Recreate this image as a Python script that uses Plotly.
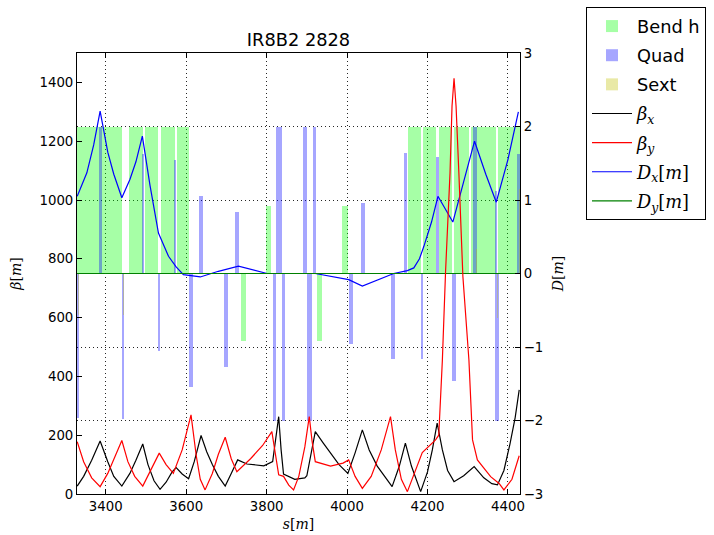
import plotly.graph_objects as go

# ---------------- data ----------------
# Bend h elements: start / end in s [m], height on D axis
bend_start = [3329, 3387, 3458, 3497, 3537, 3577, 3736, 3799, 3925, 3988, 4151, 4190, 4229, 4267, 4309, 4376]
bend_end   = [3387, 3440, 3492, 3531, 3571, 3608, 3749, 3811, 3938, 4003, 4185, 4220, 4262, 4303, 4370, 4429]
bend_h     = [2, 2, 2, 2, 2, 2, -0.925, 0.917, -0.925, 0.917, 2, 2, 2, 2, 2, 2]

# Quadrupoles: centre, length, height on D axis
quad_s = [3332, 3387, 3442, 3493, 3533, 3572.5, 3612, 3637, 3698, 3727, 3819, 3831, 3842,
          3895, 3907, 3919, 4009, 4039, 4114, 4145, 4186, 4225, 4265, 4318, 4371, 4373, 4426]
quad_l = [5, 6, 5, 6, 6, 6, 10, 11, 10, 10, 8, 14, 8,
          11, 12, 8, 10, 10, 12, 9, 6, 7, 10, 8, 5, 8, 8]
quad_h = [-1.97, 2.0, -1.98, 1.63, -1.06, 1.545, -1.54, 1.05, -1.27, 0.84, -2.0, 2.0, -2.0,
          2.0, -2.0, 2.0, -0.956, 0.963, -1.165, 1.636, -1.165, 1.59, -1.457, 2.0, 1.12, -2.0, 1.62]

# Sextupoles
sext_s = [3333, 3388, 3444, 4321, 4374, 4428]
sext_l = [2, 2, 2, 3, 2, 2]
sext_h = [-0.57, 0.39, -0.57, 0.34, -0.6, 1.15]

# beta_x [m]
s_bx = [3329, 3345, 3365, 3386, 3405, 3420, 3440, 3460, 3475, 3492, 3505, 3520, 3535, 3550, 3565,
        3575, 3590, 3606, 3620, 3637, 3651, 3665, 3680, 3697, 3712, 3728, 3751, 3793, 3815, 3822,
        3830, 3836, 3842, 3870, 3895, 3900, 3910, 3921, 3940, 3959, 3980, 4002, 4020, 4038, 4055,
        4075, 4095, 4112, 4130, 4145, 4160, 4175, 4183, 4200, 4212, 4224, 4237, 4250, 4266, 4290,
        4316, 4340, 4360, 4374, 4390, 4405, 4418, 4428]
bx = [27, 60, 115, 180, 110, 60, 27, 70, 115, 170, 100, 45, 16, 40, 75,
      90, 68, 52, 110, 199, 144, 100, 60, 27, 70, 116, 102, 96, 110, 180,
      263, 150, 68, 50, 55, 62, 130, 212, 175, 139, 100, 70, 140, 218, 150,
      95, 55, 25, 95, 173, 95, 35, 8, 75, 150, 241, 150, 80, 42, 62,
      93, 55, 35, 31, 80, 170, 260, 354]

# beta_y [m]
s_by = [3329, 3345, 3365, 3386, 3405, 3420, 3440, 3455, 3472, 3492, 3510, 3533, 3550, 3568, 3590,
        3612, 3625, 3635, 3647, 3665, 3680, 3697, 3712, 3726, 3760, 3790, 3813, 3822, 3830, 3842,
        3855, 3867, 3880, 3895, 3906, 3913, 3921, 3959, 3990, 4004, 4020, 4038, 4060, 4085, 4108,
        4120, 4135, 4150, 4165, 4187, 4220, 4228, 4237, 4245, 4256, 4261, 4266, 4271, 4278, 4288,
        4303, 4312, 4324, 4345, 4357, 4378, 4390, 4410, 4428]
by = [178, 110, 55, 25, 70, 120, 182, 110, 60, 27, 75, 139, 100, 70, 150,
      269, 130, 50, 14, 70, 135, 193, 120, 76, 120, 165, 212, 140, 65, 60,
      30, 14, 60, 160, 263, 180, 110, 95, 105, 116, 60, 19, 60, 150, 263,
      150, 50, 8, 60, 141, 184, 200, 456, 760, 1092, 1320, 1414, 1320, 1092, 740,
      456, 184, 116, 82, 59, 36, 14, 50, 130]

# D_x [m]
s_dx = [3329, 3353, 3370, 3386, 3405, 3420, 3440, 3460, 3475, 3491, 3510, 3531, 3556, 3575, 3593,
        3635, 3680, 3730, 3801, 3921, 4004, 4038, 4116, 4150, 4166, 4180, 4191, 4210, 4226, 4263,
        4290, 4317, 4345, 4371, 4400, 4426]
dx = [1.05, 1.37, 1.75, 2.21, 1.65, 1.35, 1.03, 1.28, 1.52, 1.87, 1.2, 0.55, 0.235, 0.09, -0.015,
      -0.047, 0.03, 0.1, 0.0, 0.0, -0.083, -0.17, 0.0, 0.04, 0.076, 0.2, 0.37, 0.7, 1.05, 0.7,
      1.25, 1.8, 1.35, 0.97, 1.55, 2.2]

# D_y [m]
s_dy = [3329, 4429]
dy = [0.0, 0.0]

title_text = "IR8B2 2828"
x_range = [3328.5, 4430]
beta_range = [0, 1500]
disp_range = [-3, 3]

# ---------------- figure ----------------
fig = go.Figure()

bend_c = [(a + b) / 2 for a, b in zip(bend_start, bend_end)]
bend_w = [b - a for a, b in zip(bend_start, bend_end)]

fig.add_trace(go.Bar(x=bend_c, y=bend_h, width=bend_w, base=0, name="Bend h",
                     marker=dict(color="rgba(0,255,0,0.35)", line=dict(width=0)),
                     yaxis="y", legendgroup="a"))
fig.add_trace(go.Bar(x=quad_s, y=quad_h, width=quad_l, base=0, name="Quad",
                     marker=dict(color="rgba(0,0,255,0.35)", line=dict(width=0)),
                     yaxis="y", legendgroup="b"))
fig.add_trace(go.Bar(x=sext_s, y=sext_h, width=sext_l, base=0, name="Sext",
                     marker=dict(color="rgba(191,191,0,0.35)", line=dict(width=0)),
                     yaxis="y", legendgroup="c"))

serif = "font-family:'DejaVu Serif'"
fig.add_trace(go.Scatter(x=s_bx, y=bx, mode="lines", yaxis="y2", legendgroup="d",
                         name=f"<span style=\"{serif}\"><i>β</i><sub><i>x</i></sub></span>",
                         line=dict(color="black", width=1.2)))
fig.add_trace(go.Scatter(x=s_by, y=by, mode="lines", yaxis="y2", legendgroup="e",
                         name=f"<span style=\"{serif}\"><i>β</i><sub><i>y</i></sub></span>",
                         line=dict(color="red", width=1.2)))
fig.add_trace(go.Scatter(x=s_dx, y=dx, mode="lines", yaxis="y", legendgroup="f",
                         name=f"<span style=\"{serif}\"><i>D</i><sub><i>x</i></sub>[<i>m</i>]</span>",
                         line=dict(color="blue", width=1.2)))
fig.add_trace(go.Scatter(x=s_dy, y=dy, mode="lines", yaxis="y", legendgroup="g",
                         name=f"<span style=\"{serif}\"><i>D</i><sub><i>y</i></sub>[<i>m</i>]</span>",
                         line=dict(color="green", width=1.2)))

tickfont = dict(family="DejaVu Sans", size=13.3, color="black")
labfont = dict(family="DejaVu Serif", size=14, color="black")
grid_dash = "1px,3px"
grid_col = "rgba(0,0,0,0.85)"

fig.update_layout(
    width=714, height=535,
    margin=dict(l=77, r=194, t=53, b=41, autoexpand=False),
    paper_bgcolor="white", plot_bgcolor="white",
    barmode="overlay", bargap=0,
    font=dict(family="DejaVu Sans", size=13.3, color="black"),
    title=dict(text=title_text, x=(298.5 / 714), xanchor="center",
               y=1 - 40 / 535, yanchor="middle", yref="container",
               font=dict(family="DejaVu Sans", size=17.8, color="black")),
    xaxis=dict(range=x_range, tick0=3400, dtick=200, ticks="inside", ticklen=5,
               tickcolor="black", showline=True, linecolor="black", linewidth=1,
               mirror="ticks", showgrid=True, gridcolor=grid_col,
               griddash=grid_dash, gridwidth=1, zeroline=False, tickfont=tickfont,
               title=dict(text="<i>s</i>[<i>m</i>]", font=labfont, standoff=6)),
    yaxis=dict(range=disp_range, dtick=1, side="right", ticks="inside", ticklen=5,
               tickcolor="black", showline=True, linecolor="black", linewidth=1,
               showgrid=True, gridcolor=grid_col, griddash=grid_dash,
               gridwidth=1, zeroline=False, tickfont=tickfont,
               title=dict(text="<i>D</i>[<i>m</i>]", font=labfont, standoff=10)),
    yaxis2=dict(range=beta_range, dtick=200, side="left", overlaying="y",
                ticks="inside", ticklen=5, tickcolor="black", showline=True,
                linecolor="black", linewidth=1, showgrid=False, zeroline=False,
                tickfont=tickfont,
                title=dict(text="<i>β</i>[<i>m</i>]", font=labfont, standoff=14)),
    legend=dict(x=(586 - 77) / 443, y=(494 - 7) / 441, xanchor="left", yanchor="top",
                bgcolor="white", bordercolor="black", borderwidth=1,
                font=dict(family="DejaVu Sans", size=17.8, color="black"),
                tracegroupgap=3, itemwidth=40),
)

fig.write_html("out.html")
